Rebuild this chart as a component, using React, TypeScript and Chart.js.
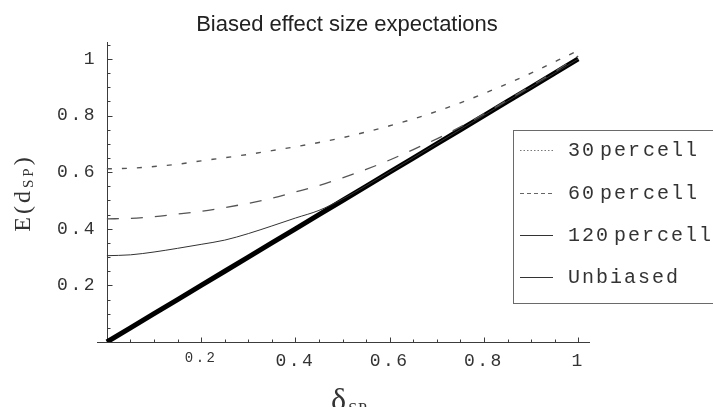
import React, { useEffect, useRef } from 'react';
import { Chart, registerables } from 'chart.js';

Chart.register(...registerables);

// ---- data ----
const deltaSP = [0, 0.05, 0.1, 0.15, 0.2, 0.25, 0.3, 0.35, 0.4, 0.45, 0.5, 0.55, 0.6, 0.65, 0.7, 0.75, 0.8, 0.85, 0.9, 0.95, 1.0];
const per30 = [0.612, 0.614, 0.62, 0.628, 0.64, 0.651, 0.663, 0.676, 0.69, 0.705, 0.722, 0.742, 0.764, 0.788, 0.815, 0.845, 0.878, 0.913, 0.95, 0.99, 1.03];
const per60 = [0.435, 0.437, 0.443, 0.452, 0.462, 0.475, 0.49, 0.508, 0.53, 0.553, 0.58, 0.61, 0.643, 0.68, 0.718, 0.76, 0.806, 0.855, 0.905, 0.955, 1.01];
const per120 = [0.305, 0.308, 0.318, 0.331, 0.345, 0.36, 0.383, 0.41, 0.438, 0.465, 0.505, 0.552, 0.601, 0.651, 0.701, 0.751, 0.801, 0.851, 0.9, 0.95, 1.0];
const unbiased = [0, 0.05, 0.1, 0.15, 0.2, 0.25, 0.3, 0.35, 0.4, 0.45, 0.5, 0.55, 0.6, 0.65, 0.7, 0.75, 0.8, 0.85, 0.9, 0.95, 1.0];

const seriesLabels = ['30 per cell', '60 per cell', '120 per cell', 'Unbiased'];
const xTickLabels = ['0.2', '0.4', '0.6', '0.8', '1'];
const yTickLabels = ['0.2', '0.4', '0.6', '0.8', '1'];
const titleText = 'Biased effect size expectations';
const yTitleMain = 'E(d';
const yTitleSub = 'SP';
const yTitleEnd = ')';
const xTitleMain = 'δ';
const xTitleSub = 'SP';

const MONO = '"Liberation Mono", "DejaVu Sans Mono", monospace';
const SERIF = '"Liberation Serif", "DejaVu Serif", serif';
const SANS = '"Liberation Sans", Arial, sans-serif';

const legendDashes: number[][] = [[1.5, 2], [4, 3], [], []];
const legendColors = ['#777', '#666', '#333', '#333'];

function labelFor(list: string[], v: number): string {
  for (const s of list) {
    if (Math.abs(parseFloat(s) - v) < 1e-6) return s;
  }
  return '';
}

function isMajor(v: number) {
  const r = v / 0.2;
  return Math.abs(r - Math.round(r)) < 1e-6;
}

const stylePlugin = {
  id: 'mathematicaStyle',
  beforeDraw(chart: any) {
    (chart.ctx as any).letterSpacing = '2.5px';
  },
  beforeDatasetsDraw(chart: any) {
    const { ctx } = chart;
    const x = chart.scales.x;
    const y = chart.scales.y;
    const x0 = Math.round(x.getPixelForValue(0)) + 0.5;
    const y0 = Math.round(y.getPixelForValue(0)) + 0.5;
    ctx.save();
    ctx.strokeStyle = '#3c3c3c';
    ctx.lineWidth = 1;
    ctx.beginPath();
    ctx.moveTo(x.left, y0);
    ctx.lineTo(x.right, y0);
    ctx.moveTo(x0, y.top);
    ctx.lineTo(x0, y.bottom);
    for (const t of x.ticks) {
      if (t.value <= 1e-9) continue;
      const px = Math.round(x.getPixelForValue(t.value)) + 0.5;
      ctx.moveTo(px, y0);
      ctx.lineTo(px, y0 - (isMajor(t.value) ? 5 : 3));
    }
    for (const t of y.ticks) {
      if (t.value <= 1e-9) continue;
      const py = Math.round(y.getPixelForValue(t.value)) + 0.5;
      ctx.moveTo(x0, py);
      ctx.lineTo(x0 + (isMajor(t.value) ? 5 : 3), py);
    }
    ctx.stroke();
    ctx.restore();
  },
  afterDraw(chart: any) {
    const { ctx } = chart;
    ctx.save();
    (ctx as any).letterSpacing = '0px';

    // title
    ctx.fillStyle = '#222';
    ctx.font = `22px ${SANS}`;
    ctx.textAlign = 'center';
    ctx.textBaseline = 'alphabetic';
    ctx.fillText(titleText, 347, 31);

    // y-axis title (rotated)
    ctx.save();
    ctx.translate(30, 193);
    ctx.rotate(-Math.PI / 2);
    ctx.textAlign = 'left';
    (ctx as any).letterSpacing = '3px';
    ctx.font = `24px ${SERIF}`;
    const wMain = ctx.measureText(yTitleMain).width;
    const wEnd = ctx.measureText(yTitleEnd).width;
    ctx.font = `15px ${SERIF}`;
    const wSub = ctx.measureText(yTitleSub).width;
    let sx = -(wMain + wSub + wEnd) / 2;
    ctx.fillStyle = '#333';
    ctx.font = `24px ${SERIF}`;
    ctx.fillText(yTitleMain, sx, 0);
    sx += wMain;
    ctx.font = `15px ${SERIF}`;
    ctx.fillText(yTitleSub, sx, 3);
    sx += wSub;
    ctx.font = `24px ${SERIF}`;
    ctx.fillText(yTitleEnd, sx, 0);
    ctx.restore();

    // x-axis title
    (ctx as any).letterSpacing = '1px';
    ctx.font = `32px ${SERIF}`;
    const wd = ctx.measureText(xTitleMain).width;
    ctx.font = `16px ${SERIF}`;
    const ws = ctx.measureText(xTitleSub).width;
    let tx = 349 - (wd + ws) / 2;
    ctx.textAlign = 'left';
    ctx.fillStyle = '#333';
    ctx.font = `32px ${SERIF}`;
    ctx.fillText(xTitleMain, tx, 410);
    tx += wd;
    ctx.font = `16px ${SERIF}`;
    ctx.fillText(xTitleSub, tx + 1, 414);

    // legend box
    (ctx as any).letterSpacing = '0px';
    const bx = 513.5, by = 130.5, bw = 220, bh = 173;
    ctx.strokeStyle = '#6a6a6a';
    ctx.lineWidth = 1;
    ctx.strokeRect(bx, by, bw, bh);
    const rowY = [150, 193, 235, 277];
    ctx.font = `20px ${MONO}`;
    (ctx as any).letterSpacing = '2px';
    ctx.textBaseline = 'middle';
    chart.data.datasets.forEach((ds: any, i: number) => {
      const ry = rowY[i] + 0.5;
      ctx.save();
      ctx.strokeStyle = legendColors[i];
      ctx.lineWidth = 1;
      ctx.setLineDash(legendDashes[i]);
      ctx.beginPath();
      ctx.moveTo(520, ry);
      ctx.lineTo(553, ry);
      ctx.stroke();
      ctx.restore();
      ctx.fillStyle = '#333';
      const words = String(ds.label).split(' ');
      let wx = 568;
      words.forEach((w, k) => {
        ctx.fillText(w, wx, rowY[i] + 1);
        wx += ctx.measureText(w).width + (k === 0 ? 4 : 1);
      });
    });
    ctx.restore();
    (ctx as any).letterSpacing = '2.5px';
  },
};

function toPoints(ys: number[]) {
  return deltaSP.map((x, i) => ({ x, y: ys[i] }));
}

export default function App() {
  const canvasRef = useRef<HTMLCanvasElement | null>(null);

  useEffect(() => {
    document.body.style.margin = '0';
    const canvas = canvasRef.current;
    if (!canvas) return;
    const chart = new Chart(canvas, {
      type: 'line',
      data: {
        datasets: [
          {
            label: seriesLabels[0],
            data: toPoints(per30),
            borderColor: '#555',
            borderWidth: 1.4,
            borderDash: [5, 10],
            pointRadius: 0,
            cubicInterpolationMode: 'monotone',
            fill: false,
          },
          {
            label: seriesLabels[1],
            data: toPoints(per60),
            borderColor: '#555',
            borderWidth: 1.3,
            borderDash: [12, 12],
            pointRadius: 0,
            cubicInterpolationMode: 'monotone',
            fill: false,
          },
          {
            label: seriesLabels[2],
            data: toPoints(per120),
            borderColor: '#333',
            borderWidth: 1,
            pointRadius: 0,
            cubicInterpolationMode: 'monotone',
            fill: false,
          },
          {
            label: seriesLabels[3],
            data: toPoints(unbiased),
            borderColor: '#000',
            borderWidth: 5,
            pointRadius: 0,
            fill: false,
          },
        ],
      },
      options: {
        animation: false,
        responsive: false,
        devicePixelRatio: 1,
        layout: { padding: { top: 42, right: 123, bottom: 0, left: 0 } },
        plugins: {
          legend: { display: false },
          title: { display: false },
          tooltip: { enabled: false },
        },
        scales: {
          x: {
            type: 'linear',
            min: -0.021,
            max: 1.025,
            grid: { display: false, drawTicks: false },
            border: { display: false },
            ticks: {
              stepSize: 0.05,
              includeBounds: false,
              autoSkip: false,
              maxRotation: 0,
              padding: 8,
              color: '#333',
              font: (c: any) => ({
                family: MONO,
                size: c.tick && Math.abs(c.tick.value - 0.2) < 1e-6 ? 14 : 18,
              }),
              callback: (v: any) => labelFor(xTickLabels, Number(v)),
            },
            afterFit: (s: any) => {
              s.height = 65;
            },
          },
          y: {
            type: 'linear',
            min: 0,
            max: 1.06,
            grid: { display: false, drawTicks: false },
            border: { display: false },
            ticks: {
              stepSize: 0.05,
              includeBounds: false,
              autoSkip: false,
              padding: 0,
              color: '#333',
              font: { family: MONO, size: 18 },
              callback: (v: any) => labelFor(yTickLabels, Number(v)),
            },
            afterFit: (s: any) => {
              s.width = 97;
            },
          },
        },
      },
      plugins: [stylePlugin],
    } as any);
    return () => chart.destroy();
  }, []);

  return (
    <div style={{ width: 713, height: 407, background: '#fff' }}>
      <canvas ref={canvasRef} width={713} height={407} />
    </div>
  );
}
